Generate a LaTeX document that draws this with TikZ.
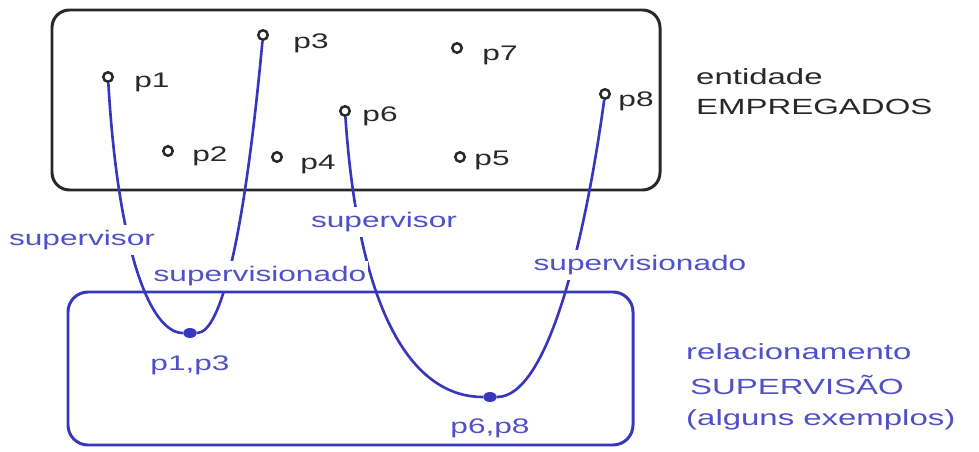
\documentclass[tikz,border=0pt]{standalone}
\usepackage{fontspec}
\setmainfont{Liberation Sans}[FakeStretch=1.5]
\definecolor{azul}{RGB}{55,55,190}
\definecolor{azultexto}{RGB}{80,80,200}
\definecolor{cinza}{RGB}{40,40,40}
\tikzset{
  ponto/.style={circle,draw=cinza,line width=1.4pt,inner sep=0pt,minimum size=0.19cm},
  par/.style={ellipse,fill=azul,inner sep=0pt,minimum width=0.27cm,minimum height=0.2cm},
  papel/.style={fill=white,text=azultexto,inner xsep=1pt,inner ysep=3pt},
  ligacao/.style={azul,line width=1.5pt},
  legenda/.style={anchor=west,text=cinza,font=\fontsize{12.5}{15}\selectfont},
}
\usetikzlibrary{shapes.geometric}
\begin{document}
\begin{tikzpicture}[x=0.02cm,y=-0.02cm,font=\fontsize{12}{14}\selectfont]
\useasboundingbox (0,0) rectangle (979,452);

% Entidade EMPREGADOS
\draw[cinza,line width=1.7pt,rounded corners=0.35cm] (52,10) rectangle (660,190);
\node[legenda] (ent1) at (690,77) {entidade};
\node[legenda] (ent2) at (690,107) {EMPREGADOS};

% Relacionamento SUPERVISAO
\node[legenda,text=azultexto] (rel1) at (680,352) {relacionamento};
\node[legenda,text=azultexto] (rel2) at (684,385) {SUPERVISÃO};
\node[legenda,text=azultexto] (rel3) at (680,420) {(alguns exemplos)};

% Empregados
\node[ponto] (p1) at (108,77) {};
\node[ponto] (p2) at (168,151) {};
\node[ponto] (p3) at (263,35) {};
\node[ponto] (p4) at (277,157) {};
\node[ponto] (p5) at (460,157) {};
\node[ponto] (p6) at (345,111) {};
\node[ponto] (p7) at (457,48) {};
\node[ponto] (p8) at (605,94) {};
\node[text=cinza] (l1) at (152,82) {p1};
\node[text=cinza] (l2) at (210,156) {p2};
\node[text=cinza] (l3) at (311,43) {p3};
\node[text=cinza] (l4) at (318,164) {p4};
\node[text=cinza] (l5) at (492,160) {p5};
\node[text=cinza] (l6) at (380,116) {p6};
\node[text=cinza] (l7) at (500,55) {p7};
\node[text=cinza] (l8) at (636,101) {p8};

% Pares
\node[par] (d13) at (190,333) {};
\node[par] (d68) at (490,397) {};
\node[text=azultexto] (n13) at (190,365) {p1,p3};
\node[text=azultexto] (n68) at (490,428) {p6,p8};

% Papeis
\draw[ligacao] (p1) .. controls (118,250) and (150,333) .. (d13);
\draw[ligacao] (d13) .. controls (222,333) and (245,230) .. (p3);
\draw[ligacao] (p6) .. controls (360,330) and (420,397) .. (d68);
\draw[ligacao] (d68) .. controls (548,397) and (585,240) .. (p8);
\node[papel] (s1) at (82,240) {supervisor};
\node[papel] (v1) at (260,276) {supervisionado};
\node[papel] (s2) at (384,222) {supervisor};
\node[papel] (v2) at (640,265) {supervisionado};

\draw[azul,line width=1.7pt,rounded corners=0.4cm] (68,292) rectangle (633,445);

\end{tikzpicture}
\end{document}
